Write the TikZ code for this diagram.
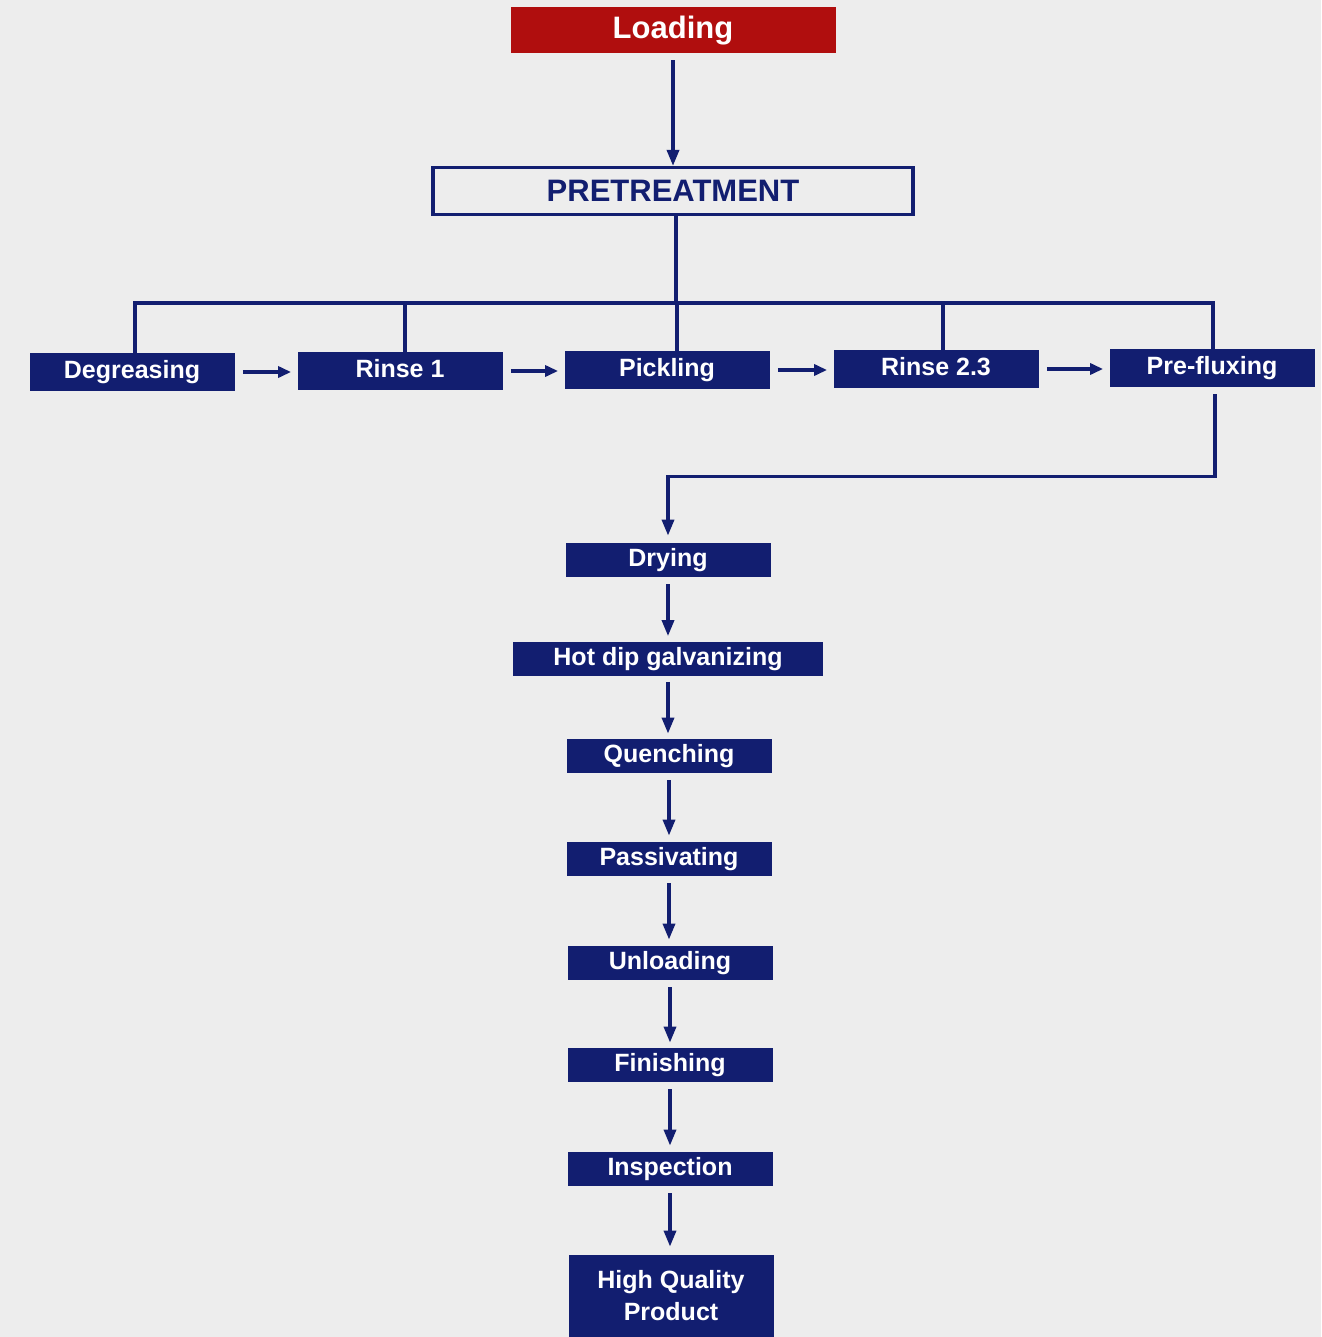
\documentclass[tikz,border=0pt]{standalone}
\usepackage{fontspec}
\setmainfont{Liberation Sans}
\usetikzlibrary{arrows.meta}

\definecolor{navyblue}{RGB}{18,30,112}
\definecolor{loadred}{RGB}{176,14,14}
\definecolor{paper}{RGB}{237,237,237}

\begin{document}
\begin{tikzpicture}[x=0.5pt,y=-0.5pt,
  stepbox/.style={fill=navyblue,text=white,font=\bfseries\fontsize{12.5}{16}\selectfont,
    minimum width=102.5pt,minimum height=17pt,inner sep=0pt,align=center,
    text height=9.2pt,text depth=2.6pt},
  rowbox/.style={stepbox,minimum height=19pt},
  flow/.style={draw=navyblue,line width=1.7pt,-{Triangle[length=8pt,width=6pt]}},
  sideflow/.style={flow,-{Triangle[length=6.5pt,width=5.5pt]}},
  link/.style={draw=navyblue,line width=1.7pt}]
% paper
\fill[paper] (0,0) rectangle (1321,1337);
\useasboundingbox (0,0) rectangle (1321,1337);

% top
\node[fill=loadred,text=white,font=\bfseries\fontsize{15.5}{18}\selectfont,
  minimum width=162.5pt,minimum height=23pt,inner sep=0pt,
  text height=11.5pt,text depth=3.2pt] (load) at (673,30) {Loading};
\node[draw=navyblue,line width=1.6pt,fill=paper,text=navyblue,
  font=\bfseries\fontsize{15.5}{18}\selectfont,
  minimum width=240pt,minimum height=23.5pt,inner sep=0pt] (pre) at (673,191) {PRETREATMENT};
\draw[flow] ([yshift=-3.5pt]load.south) -- (pre.north);

% pretreatment row
\node[rowbox] (degr) at (132,372) {Degreasing};
\node[rowbox] (rin1) at (400,371) {Rinse 1};
\node[rowbox] (pick) at (667,370) {Pickling};
\node[rowbox] (rin2) at (936,369) {Rinse 2.3};
\node[rowbox] (pflx) at (1212,368) {Pre-fluxing};

\coordinate (bus) at (676,303);
\draw[link] (bus |- pre.south) -- (bus);
\draw[link] ([xshift=1.5pt]degr.north) |- (bus) -| ([xshift=0.5pt]pflx.north);
\draw[link] ([xshift=2.5pt]rin1.north) -- ([xshift=2.5pt]rin1.north |- bus);
\draw[link] ([xshift=5pt]pick.north) -- ([xshift=5pt]pick.north |- bus);
\draw[link] ([xshift=3.5pt]rin2.north) -- ([xshift=3.5pt]rin2.north |- bus);

\draw[sideflow] ([xshift=4pt]degr.east) -- ([xshift=-3pt]rin1.west |- degr.east);
\draw[sideflow] ([xshift=4pt]rin1.east) -- ([xshift=-3pt]pick.west |- rin1.east);
\draw[sideflow] ([xshift=4pt]pick.east) -- ([xshift=-3pt]rin2.west |- pick.east);
\draw[sideflow] ([xshift=4pt]rin2.east) -- ([xshift=-3pt]pflx.west |- rin2.east);

% main column
\node[stepbox] (dry) at (668,560) {Drying};
\node[stepbox,minimum width=155pt] (hdg) at (668,658.5) {Hot dip galvanizing};
\node[stepbox] (quen) at (669,756) {Quenching};
\node[stepbox] (pass) at (669,859) {Passivating};
\node[stepbox] (unld) at (670,963) {Unloading};
\node[stepbox] (fin) at (670,1065) {Finishing};
\node[stepbox] (insp) at (670,1169) {Inspection};
\node[stepbox,minimum height=41pt,text height=,text depth=] (hqp) at (671,1296) {High Quality\\Product};

\draw[flow] ([xshift=1.5pt,yshift=-3.5pt]pflx.south) -- ++(0,82) -| ([yshift=3.5pt]dry.north);
\draw[flow] ([yshift=-3.5pt]dry.south) -- ([yshift=2.5pt]hdg.north);
\draw[flow] ([yshift=-3pt]hdg.south) -- ([yshift=2.5pt]hdg.south |- quen.north);
\draw[flow] ([yshift=-3.5pt]quen.south) -- ([yshift=3pt]pass.north);
\draw[flow] ([yshift=-3.5pt]pass.south) -- ([yshift=3pt]pass.south |- unld.north);
\draw[flow] ([yshift=-3.5pt]unld.south) -- ([yshift=2.5pt]fin.north);
\draw[flow] ([yshift=-3.5pt]fin.south) -- ([yshift=3pt]insp.north);
\draw[flow] ([yshift=-3.5pt]insp.south) -- ([yshift=4pt]insp.south |- hqp.north);
\end{tikzpicture}
\end{document}
